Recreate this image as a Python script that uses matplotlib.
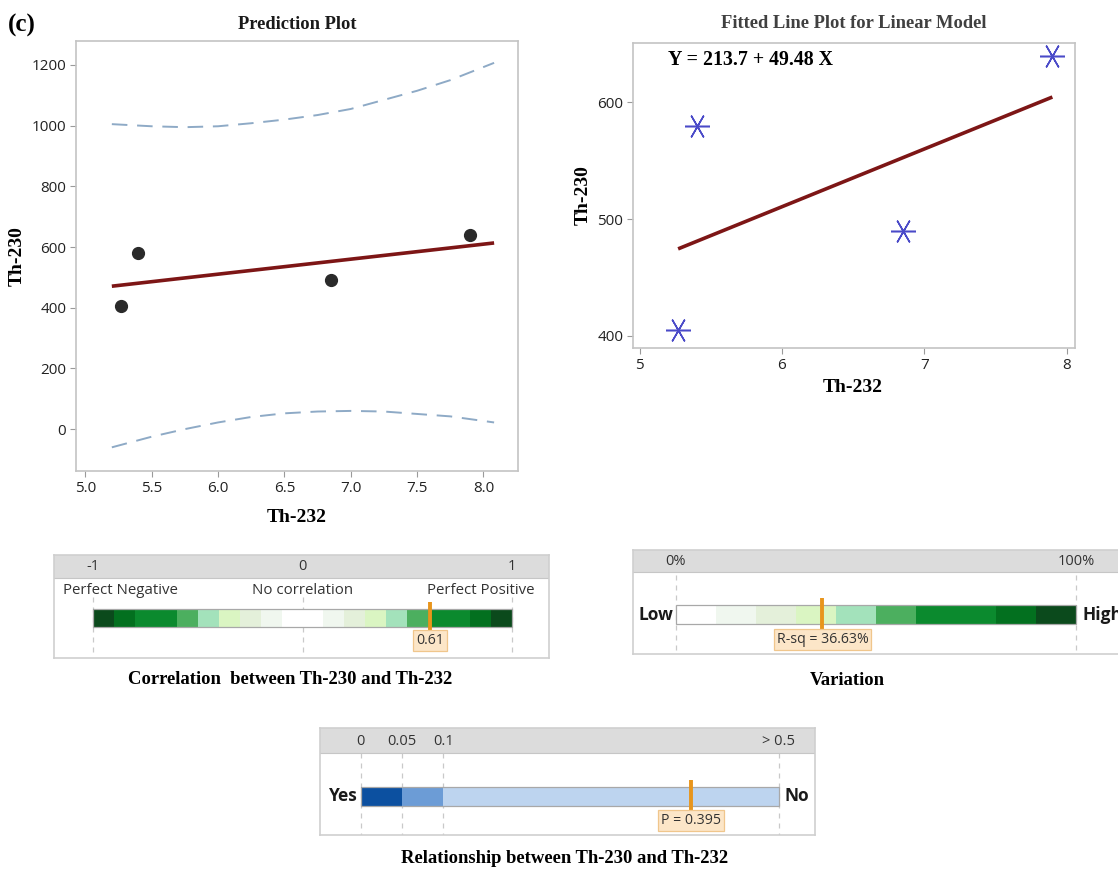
import numpy as np
import matplotlib
matplotlib.use("Agg")
import matplotlib.pyplot as plt
from matplotlib.patches import Rectangle

# ---------------- data ----------------
th232 = [5.27, 5.40, 6.85, 7.90]
th230 = [405, 580, 490, 640]
intercept = 213.7
slope = 49.48
fit_range = [5.20, 8.08]

band_x = [5.20, 5.50, 5.75, 6.00, 6.25, 6.50, 6.75, 7.00, 7.25, 7.50, 7.75, 8.08]
band_upper = [1005, 998, 995, 998, 1008, 1020, 1035, 1055, 1085, 1115, 1150, 1207]
band_lower = [-60, -25, 0, 22, 40, 52, 58, 60, 58, 50, 42, 22]

corr_value = 0.61
corr_edges = [-1, -0.9, -0.8, -0.6, -0.5, -0.4, -0.3, -0.2, -0.1, 0.1,
              0.2, 0.3, 0.4, 0.5, 0.6, 0.8, 0.9, 1.0]
corr_ticks = [-1, 0, 1]
corr_tick_labels = ["-1", "0", "1"]
corr_names = ["Perfect Negative", "No correlation", "Perfect Positive"]

rsq_value = 36.63
rsq_edges = [0, 10, 20, 30, 40, 50, 60, 70, 80, 90, 100]
rsq_ticks = [0, 100]
rsq_tick_labels = ["0%", "100%"]

p_value = 0.395
p_edges = [0, 0.05, 0.1, 0.5]
p_ticks = [0, 0.05, 0.1, 0.5]
p_tick_labels = ["0", "0.05", "0.1", "> 0.5"]

# ---------------- styles ----------------
G_DARKEST, G_DARK, G_MED, G_MID = "#0b4a1c", "#03701f", "#0b8a2e", "#4caf5f"
G_MINT, G_YEL, G_PALE, G_FAINT = "#a3e2bb", "#daf5c2", "#e4f0da", "#f0f7ef"
corr_colors = [G_DARKEST, G_DARK, G_MED, G_MID, G_MINT, G_YEL, G_PALE, G_FAINT,
               "#ffffff", G_FAINT, G_PALE, G_YEL, G_MINT, G_MID, G_MED, G_DARK, G_DARKEST]
rsq_colors = ["#ffffff", G_FAINT, G_PALE, G_YEL, G_MINT, G_MID, G_MED, G_MED, G_DARK, G_DARKEST]
p_colors = ["#0c50a0", "#6c9cd6", "#bdd4ef"]

SERIF = "Liberation Serif"
SANS = ["Open Sans", "DejaVu Sans"]
TICK_C = "#222222"
FIT_C = "#7d1616"
ORANGE = "#e8951c"

W, H = 1118, 871
fig = plt.figure(figsize=(W / 100, H / 100), dpi=100)


def fbox(x0, y0, x1, y1):
    return [x0 / W, 1 - y1 / H, (x1 - x0) / W, (y1 - y0) / H]


def style_plot_axes(ax):
    for s in ax.spines.values():
        s.set_color("#c4c4c4")
        s.set_linewidth(1.2)
    ax.tick_params(direction="out", length=4, width=0.8, color="#9a9a9a",
                   labelsize=11, labelcolor=TICK_C, pad=3)
    for lab in ax.get_xticklabels() + ax.get_yticklabels():
        lab.set_family(SANS)


# ---------------- prediction plot ----------------
ax1 = fig.add_axes(fbox(76, 41, 518, 471))
ax1.plot(band_x, band_upper, color="#8eaac6", lw=1.4, ls=(0, (8, 5)))
ax1.plot(band_x, band_lower, color="#8eaac6", lw=1.4, ls=(0, (8, 5)))
fx = np.array(fit_range)
ax1.plot(fx, intercept + slope * fx, color=FIT_C, lw=2.6, solid_capstyle="butt")
ax1.plot(th232, th230, ls="none", marker="o", ms=8.5, color="#2a2a2a")
ax1.set_xlim(4.93, 8.26)
ax1.set_ylim(-138, 1279)
ax1.set_xticks(np.arange(5.0, 8.01, 0.5))
ax1.set_xticklabels([f"{v:.1f}" for v in np.arange(5.0, 8.01, 0.5)])
ax1.set_yticks(np.arange(0, 1201, 200))
style_plot_axes(ax1)
ax1.set_title("Prediction Plot", family=SERIF, fontweight="bold", fontsize=13.3,
              color="#1a1a1a", pad=9)
ax1.set_xlabel("Th-232", family=SERIF, fontweight="bold", fontsize=14)
ax1.set_ylabel("Th-230", family=SERIF, fontweight="bold", fontsize=14)
ax1.xaxis.label.set_va("center")
ax1.yaxis.label.set_va("center")
ax1.xaxis.set_label_coords(0.5, -0.107)
ax1.yaxis.set_label_coords(-0.133, 0.5)

fig.text(8 / W, 1 - 25 / H, "(c)", family=SERIF, fontweight="bold", fontsize=18,
         va="center", ha="left")

# ---------------- fitted line plot ----------------
ax2 = fig.add_axes(fbox(633, 43, 1075, 348))
fx2 = np.array([min(th232), max(th232)])
ax2.plot(fx2, intercept + slope * fx2, color=FIT_C, lw=2.6, solid_capstyle="butt")
ax2.plot(th232, th230, ls="none", marker=(6, 2, 90), ms=18, mew=1.1,
         color="#4a4ac8", mec="#4a4ac8")
ax2.set_xlim(4.953, 8.059)
ax2.set_ylim(389.5, 650.9)
ax2.set_xticks([5, 6, 7, 8])
ax2.set_yticks([400, 500, 600])
style_plot_axes(ax2)
ax2.set_title("Fitted Line Plot for Linear Model", family=SERIF, fontweight="bold",
              fontsize=13.3, color="#404040", pad=11)
ax2.set_xlabel("Th-232", family=SERIF, fontweight="bold", fontsize=14)
ax2.set_ylabel("Th-230", family=SERIF, fontweight="bold", fontsize=14)
ax2.xaxis.label.set_va("center")
ax2.yaxis.label.set_va("center")
ax2.xaxis.set_label_coords(0.498, -0.128)
ax2.yaxis.set_label_coords(-0.113, 0.502)
ax2.text(0.080, 0.944, f"Y = {intercept} + {slope} X", transform=ax2.transAxes,
         family=SERIF, fontweight="bold", fontsize=14.3, va="center", ha="left")


# ---------------- assistant-style summary bars ----------------
def summary_panel(box, xlim, height, header, bar_y, dash_y, mark_y, edges, colors,
                  ticks, tick_labels, value, value_text, xscale=None):
    ax = fig.add_axes(fbox(*box))
    if xscale is not None:
        ax.set_xscale("function", functions=xscale)
    ax.set_xlim(*xlim)
    ax.set_ylim(height, 0)
    ax.set_xticks([])
    ax.set_yticks([])
    for s in ax.spines.values():
        s.set_color("#cfcfcf")
        s.set_linewidth(1.2)
    ax.axhspan(0, header, color="#dcdcdc", lw=0, zorder=0)
    ax.axhline(header, color="#c6c6c6", lw=0.8)
    for t, lab in zip(ticks, tick_labels):
        ax.text(t, header / 2 + 0.5, lab, ha="center", va="center", fontsize=10.5,
                family=SANS, color="#333333")
    ax.vlines(ticks, dash_y[0], dash_y[1], colors="#c9c9c9", lw=0.9,
              linestyles=(0, (4, 4)), zorder=1)
    y0, y1 = bar_y
    for a, b, c in zip(edges[:-1], edges[1:], colors):
        ax.add_patch(Rectangle((a, y0), b - a, y1 - y0, fc=c, ec="none", zorder=2))
    ax.add_patch(Rectangle((edges[0], y0), edges[-1] - edges[0], y1 - y0,
                           fill=False, ec="#a8a8a8", lw=0.9, zorder=3))
    ax.vlines(value, mark_y[0], mark_y[1], colors=ORANGE, lw=2.8, zorder=4)
    ax.text(value, mark_y[1] + 7.6, value_text, ha="center", va="center",
            fontsize=10.2, family=SANS, color="#333333", zorder=5,
            bbox=dict(boxstyle="square,pad=0.2", fc="#fce6c8", ec="#f0c68c", lw=0.9))
    return ax


# correlation
axc = summary_panel((54, 555, 549, 658), (-1.188, 1.178), 103, 22.7, (54, 72),
                    (42, 100), (46.7, 78), corr_edges, corr_colors, corr_ticks,
                    corr_tick_labels, corr_value, f"{corr_value:.2f}")
axc.text(-1.145, 35.7, corr_names[0], ha="left", va="center", fontsize=10.8,
         family=SANS, color="#333333")
axc.text(0, 35.7, corr_names[1], ha="center", va="center", fontsize=10.8,
         family=SANS, color="#333333")
axc.text(1.111, 35.7, corr_names[2], ha="right", va="center", fontsize=10.8,
         family=SANS, color="#333333")
fig.text(290 / W, 1 - 679 / H, "Correlation  between Th-230 and Th-232",
         family=SERIF, fontweight="bold", fontsize=13.4, ha="center", va="center")

# variation explained
axv = summary_panel((632.7, 550, 1125, 654), (-10.74, 112.2), 104, 21.7, (55, 74.3),
                    (25, 104), (47.7, 82), rsq_edges, rsq_colors, rsq_ticks,
                    rsq_tick_labels, rsq_value, f"R-sq = {rsq_value:.2f}%")
axv.text(-0.7, 64.6, "Low", ha="right", va="center", fontsize=12.5, fontweight="bold",
         family=SANS, color="#1a1a1a")
axv.text(101.7, 64.6, "High", ha="left", va="center", fontsize=12.5, fontweight="bold",
         family=SANS, color="#1a1a1a", clip_on=False)
fig.text(847 / W, 1 - 680 / H, "Variation", family=SERIF, fontweight="bold",
         fontsize=13.4, ha="center", va="center")

# relationship (p-value), piecewise-linear bar scale
p_knots = [-1, 0, 0.05, 0.1, 0.5, 1.5]
u_knots = [-820, 0, 41, 82.6, 418.3, 1257.3]


def p_forward(v):
    return np.interp(v, p_knots, u_knots)


def p_inverse(u):
    return np.interp(u, u_knots, p_knots)


axp = summary_panel((320, 728.3, 815, 835), (-0.0496, 0.543), 106.7, 25, (58.4, 77.7),
                    (25, 106.7), (51.7, 84.7), p_edges, p_colors, p_ticks,
                    p_tick_labels, p_value, f"P = {p_value}",
                    xscale=(p_forward, p_inverse))
axp.text(-0.004, 68, "Yes", ha="right", va="center", fontsize=12.5, fontweight="bold",
         family=SANS, color="#1a1a1a")
axp.text(0.507, 68, "No", ha="left", va="center", fontsize=12.5, fontweight="bold",
         family=SANS, color="#1a1a1a")
fig.text(565 / W, 1 - 858 / H, "Relationship between Th-230 and Th-232",
         family=SERIF, fontweight="bold", fontsize=13.4, ha="center", va="center")

fig.savefig("out.png", dpi=100, facecolor="white")
